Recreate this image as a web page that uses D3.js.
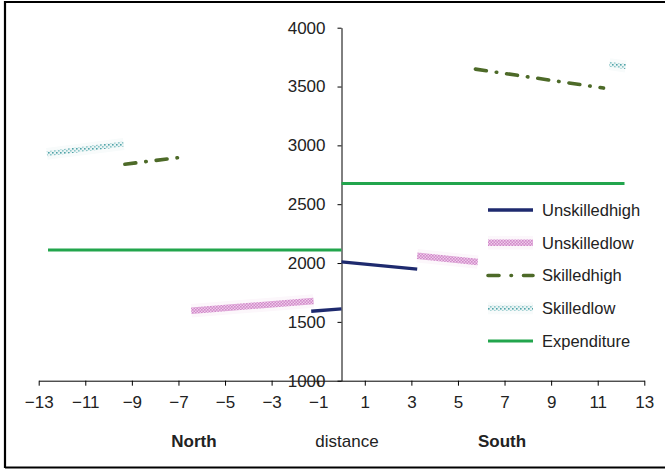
<!DOCTYPE html>
<html>
<head>
<meta charset="utf-8">
<script src="https://cdn.jsdelivr.net/npm/d3@7"></script>
<style>
  html, body { margin: 0; padding: 0; background: #fff; }
  svg { display: block; font-family: "Liberation Sans", Arial, sans-serif; }
</style>
</head>
<body>
<svg id="chart" width="665" height="469"></svg>
<script>
// Wage and expenditure levels by distance from the border (North negative, South positive)
const xTicks = [-13, -11, -9, -7, -5, -3, -1, 1, 3, 5, 7, 9, 11, 13];
const yTicks = [1000, 1500, 2000, 2500, 3000, 3500, 4000];
const seriesNames = ["Unskilledhigh", "Unskilledlow", "Skilledhigh", "Skilledlow", "Expenditure"];

// [distance, value] pairs, one segment per side of the border
const unskilledHighNorth = [[-1.3, 1590], [0, 1610]];
const unskilledHighSouth = [[0, 2010], [3.25, 1948]];
const unskilledLowNorth  = [[-6.45, 1595], [-1.2, 1677]];
const unskilledLowSouth  = [[3.25, 2062], [5.85, 2008]];
const skilledHighNorth   = [[-9.3, 2840], [-6.9, 2898]];
const skilledHighSouth   = [[5.75, 3648], [11.25, 3487]];
const skilledLowNorth    = [[-12.65, 2928], [-9.35, 3012]];
const skilledLowSouth    = [[11.5, 3690], [12.2, 3670]];
const expenditureNorth   = [[-12.6, 2111], [-5.95, 2111], [0, 2111]];
const expenditureSouth   = [[0, 2675], [6.65, 2675], [12.15, 2675]];

const svg = d3.select("#chart");
const defs = svg.append("defs");

// checkered fill for the unskilled-low line
const pPink = defs.append("pattern").attr("id", "hatchPink")
  .attr("patternUnits", "userSpaceOnUse").attr("width", 3).attr("height", 3);
pPink.append("rect").attr("width", 3).attr("height", 3).attr("fill", "#f0cbeb");
pPink.append("rect").attr("width", 1.6).attr("height", 1.6).attr("fill", "#d08ac9");
pPink.append("rect").attr("x", 1.5).attr("y", 1.5).attr("width", 1.5).attr("height", 1.5).attr("fill", "#d08ac9");

// dotted fill for the skilled-low line
const pTeal = defs.append("pattern").attr("id", "dotTeal")
  .attr("patternUnits", "userSpaceOnUse").attr("width", 4).attr("height", 4);
pTeal.append("rect").attr("width", 4).attr("height", 4).attr("fill", "#eaf4f4");
pTeal.append("rect").attr("x", 0).attr("y", 0).attr("width", 1.6).attr("height", 1.6).attr("fill", "#4fa3a8");
pTeal.append("rect").attr("x", 2).attr("y", 2).attr("width", 1.6).attr("height", 1.6).attr("fill", "#8cc6c8");

const x = d3.scaleLinear().domain([-13, 13]).range([38.7, 644.3]);
const y = d3.scaleLinear().domain([1000, 4000]).range([380.7, 27.7]);

// outer frame
svg.append("path")
  .attr("d", "M5,468 L5,2 L666,2 M5,467.5 L666,467.5")
  .attr("fill", "none").attr("stroke", "#000").attr("stroke-width", 2.2);

// x axis along y = 1000
const xAxis = svg.append("g")
  .attr("transform", `translate(0,${y(1000)})`)
  .call(d3.axisBottom(x).tickValues(xTicks).tickSize(5).tickPadding(10).tickSizeOuter(0));
xAxis.select(".domain").attr("stroke", "#000");
xAxis.selectAll("text").attr("font-size", 17).attr("fill", "#222").attr("font-family", "Liberation Sans, Arial, sans-serif");

// y axis at distance 0
const yAxis = svg.append("g")
  .attr("transform", `translate(${x(0)},0)`)
  .call(d3.axisLeft(y).tickValues(yTicks).tickFormat(d3.format("d")).tickSize(4).tickPadding(12).tickSizeOuter(0));
yAxis.select(".domain").attr("stroke", "#000");
yAxis.selectAll("text").attr("font-size", 17).attr("fill", "#222").attr("font-family", "Liberation Sans, Arial, sans-serif");

const line = d3.line().x(d => x(d[0])).y(d => y(d[1]));

const styles = {
  Unskilledhigh: { stroke: "#1e2a6e", width: 3.4, dash: null, cap: "butt" },
  Unskilledlow:  { stroke: "url(#hatchPink)", width: 6.5, dash: null, cap: "butt", halo: "#fcf7fb" },
  Skilledhigh:   { stroke: "#4d6a28", width: 3.6, dash: "11,10,0.5,10", cap: "round" },
  Skilledlow:    { stroke: "url(#dotTeal)", width: 5, dash: null, cap: "butt", halo: "#f8fbfb" },
  Expenditure:   { stroke: "#22a54d", width: 3, dash: null, cap: "butt" }
};

const segments = [
  ["Expenditure", expenditureNorth], ["Expenditure", expenditureSouth],
  ["Skilledlow", skilledLowNorth], ["Skilledlow", skilledLowSouth],
  ["Skilledhigh", skilledHighNorth], ["Skilledhigh", skilledHighSouth],
  ["Unskilledlow", unskilledLowNorth], ["Unskilledlow", unskilledLowSouth],
  ["Unskilledhigh", unskilledHighNorth], ["Unskilledhigh", unskilledHighSouth]
];

const plot = svg.append("g");
segments.forEach(([name, pts]) => {
  const s = styles[name];
  if (s.halo) {
    plot.append("path").attr("d", line(pts)).attr("fill", "none")
      .attr("stroke", s.halo).attr("stroke-width", s.width + 7);
  }
  plot.append("path").attr("d", line(pts)).attr("fill", "none")
    .attr("stroke", s.stroke).attr("stroke-width", s.width)
    .attr("stroke-linecap", s.cap)
    .attr("stroke-dasharray", s.dash);
});

// legend
const legendY = d3.scalePoint().domain(seriesNames).range([210, 341]);
const legend = svg.append("g");
seriesNames.forEach(name => {
  const s = styles[name];
  const ly = legendY(name);
  if (s.halo) {
    legend.append("line").attr("x1", 488).attr("x2", 533).attr("y1", ly).attr("y2", ly)
      .attr("stroke", s.halo).attr("stroke-width", s.width + 7);
  }
  legend.append("line").attr("x1", 488).attr("x2", 533).attr("y1", ly).attr("y2", ly)
    .attr("stroke", s.stroke).attr("stroke-width", s.width)
    .attr("stroke-linecap", s.cap)
    .attr("stroke-dasharray", name === "Skilledhigh" ? "11,12,0.5,12" : s.dash);
  legend.append("text").attr("x", 542).attr("y", ly).attr("dy", "0.36em")
    .attr("font-size", 16.5).attr("fill", "#222").text(name);
});

// side and axis captions
const captions = [
  { text: "North", x: 194, bold: true },
  { text: "distance", x: 347, bold: false },
  { text: "South", x: 502, bold: true }
];
captions.forEach(c => {
  svg.append("text").attr("x", c.x).attr("y", 446.5).attr("text-anchor", "middle")
    .attr("font-size", 17).attr("font-weight", c.bold ? "bold" : "normal")
    .attr("fill", "#222").text(c.text);
});
</script>
</body>
</html>
